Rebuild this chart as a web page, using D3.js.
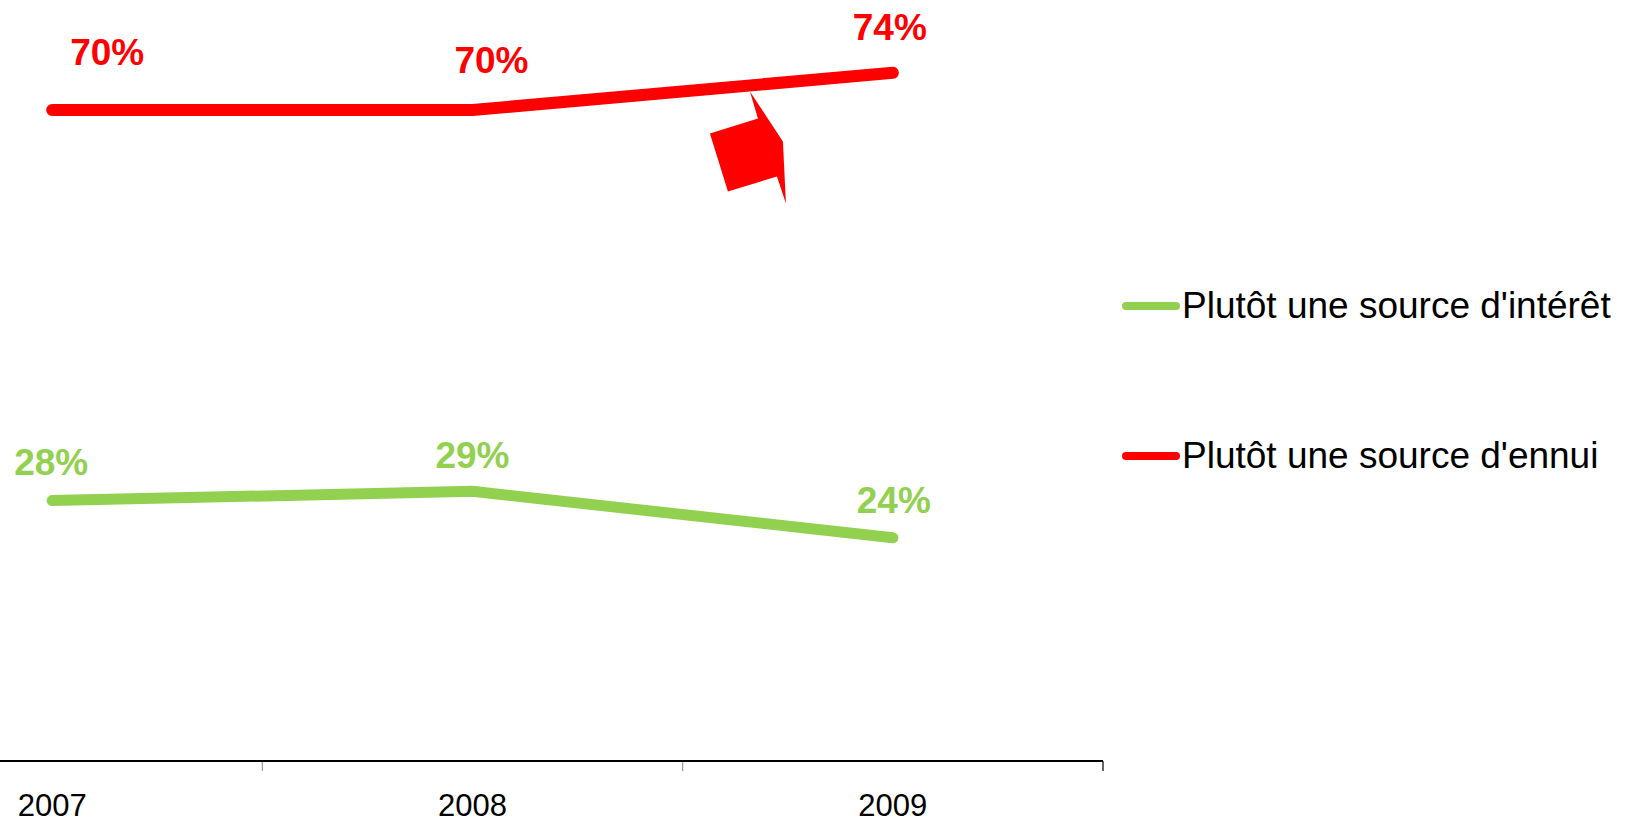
<!DOCTYPE html>
<html>
<head>
<meta charset="utf-8">
<script src="https://cdn.jsdelivr.net/npm/d3@7/dist/d3.min.js"></script>
<style>
  body { margin: 0; background: #fff; }
  svg { display: block; font-family: "Liberation Sans", Arial, sans-serif; }
</style>
</head>
<body>
<svg id="chart" width="1632" height="824"></svg>
<script>
// data
const years = ["2007", "2008", "2009"];
const interet = [28, 29, 24];
const ennui = [70, 70, 74];
const seriesNames = ["Plutôt une source d'intérêt", "Plutôt une source d'ennui"];
const seriesColors = ["#92D050", "#FF0000"];

// label nudges (px), like the hand-placed labels of the original
const interetLabelShift = [[-1, -26], [0, -23], [1, -25]];
const ennuiLabelShift = [[55, -45], [19, -37], [-3, -33]];

const svg = d3.select("#chart");
const AXIS_Y = 761;
const PLOT_RIGHT = 1103;

const x = d3.scaleBand()
  .domain(years)
  .range([-158, PLOT_RIGHT])
  .paddingInner(0);
const y = d3.scaleLinear()
  .domain([0, 80])
  .range([AXIS_Y, 17]);
const cx = d => x(d) + x.bandwidth() / 2;

// x axis: labels centred in bands, ticks on band edges
const xAxis = d3.axisBottom(x).tickSize(0).tickPadding(33);
const gx = svg.append("g")
  .attr("transform", `translate(0,${AXIS_Y})`)
  .call(xAxis);
gx.select(".domain").remove();
gx.selectAll("text")
  .attr("font-size", 31)
  .attr("font-family", "Liberation Sans, Arial, sans-serif")
  .attr("fill", "#000");

const edges = years.map(d => x(d) + x.bandwidth());
svg.append("g").selectAll("line")
  .data(edges)
  .join("line")
  .attr("x1", d => d).attr("x2", d => d)
  .attr("y1", AXIS_Y).attr("y2", AXIS_Y + 10)
  .attr("stroke", (d, i) => i === edges.length - 1 ? "#666" : "#999")
  .attr("stroke-width", (d, i) => i === edges.length - 1 ? 2 : 1.2);

svg.append("line")
  .attr("x1", 0).attr("x2", PLOT_RIGHT)
  .attr("y1", AXIS_Y).attr("y2", AXIS_Y)
  .attr("stroke", "#000")
  .attr("stroke-width", 1.8);

// lines
const line = d3.line().x((d, i) => cx(years[i])).y(d => y(d));
const series = [
  { name: seriesNames[0], values: interet, color: seriesColors[0], shift: interetLabelShift, width: 11 },
  { name: seriesNames[1], values: ennui, color: seriesColors[1], shift: ennuiLabelShift, width: 12 }
];

series.forEach(s => {
  svg.append("path")
    .datum(s.values)
    .attr("d", line)
    .attr("fill", "none")
    .attr("stroke", s.color)
    .attr("stroke-width", s.width)
    .attr("stroke-linecap", "round")
    .attr("stroke-linejoin", "round");

  svg.append("g").selectAll("text")
    .data(s.values)
    .join("text")
    .attr("x", (d, i) => cx(years[i]) + s.shift[i][0])
    .attr("y", (d, i) => y(d) + s.shift[i][1])
    .attr("text-anchor", "middle")
    .attr("font-size", 37)
    .attr("font-weight", "bold")
    .attr("fill", s.color)
    .text(d => d + "%");
});

// the stray red callout shape sitting under the 2008-2009 segment
const t = 0.66;
const ax = cx(years[1]) + t * (cx(years[2]) - cx(years[1]));
const ay = y(ennui[1] + t * (ennui[2] - ennui[1])) + 6;
const shape = [[0, 0], [33, 50], [36, 112], [27, 85], [-22, 100], [-40, 42], [8, 27]];
svg.append("path")
  .attr("d", "M" + shape.map(p => [ax + p[0], ay + p[1]].join(",")).join("L") + "Z")
  .attr("fill", "#FF0000");

// legend
const legend = svg.append("g").attr("transform", "translate(1122,306)");
const items = legend.selectAll("g")
  .data([series[0], series[1]])
  .join("g")
  .attr("transform", (d, i) => `translate(0,${i * 150})`);
items.append("line")
  .attr("x1", 4).attr("x2", 54)
  .attr("stroke", d => d.color)
  .attr("stroke-width", 8)
  .attr("stroke-linecap", "round");
items.append("text")
  .attr("x", 60)
  .attr("y", 12)
  .attr("font-size", 37)
  .attr("fill", "#000")
  .text(d => d.name);
</script>
</body>
</html>
